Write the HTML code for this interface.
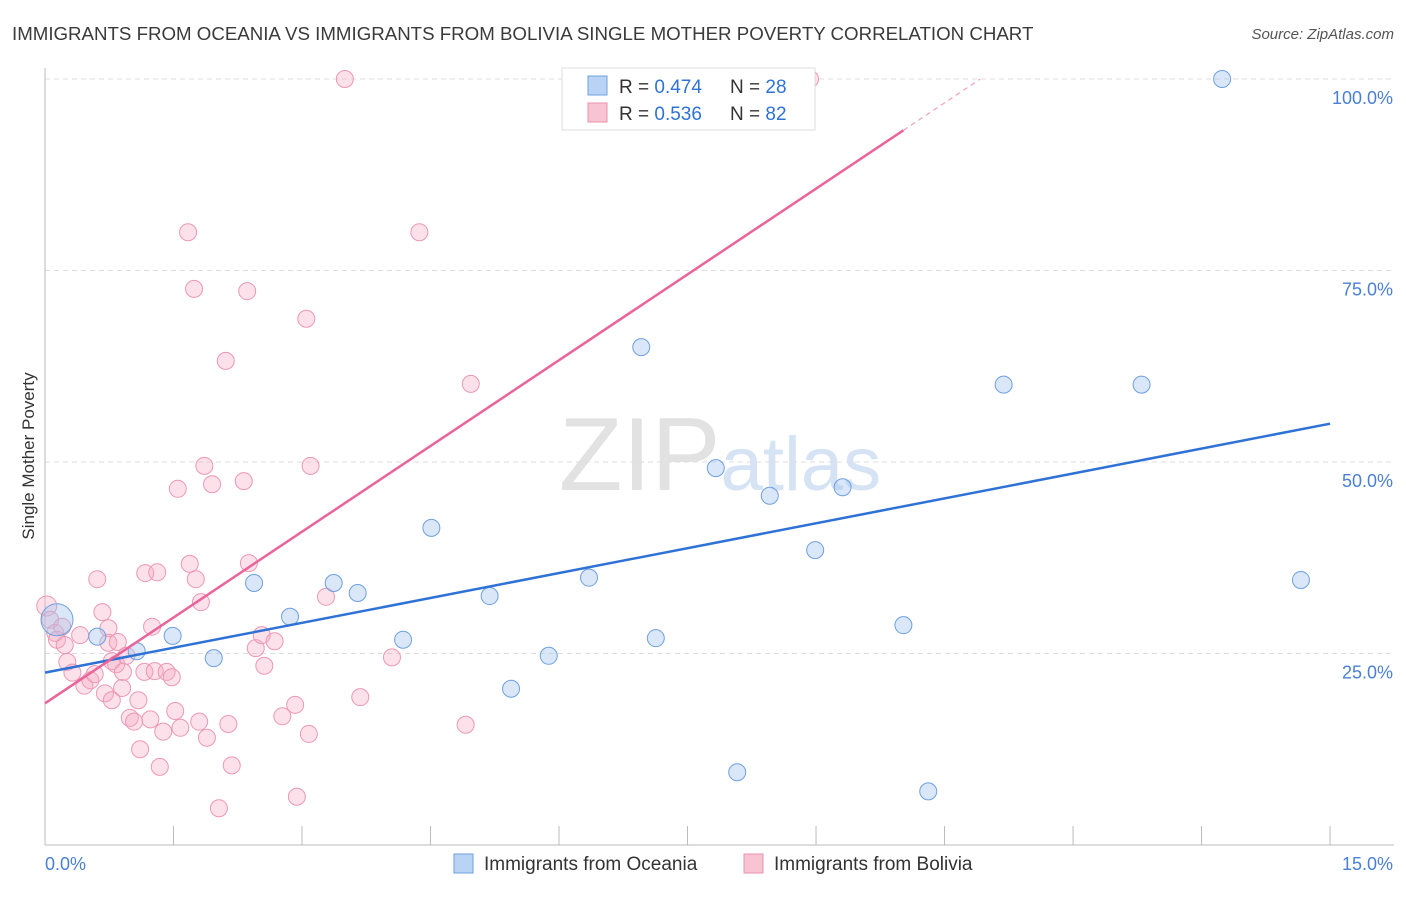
<!DOCTYPE html>
<html><head><meta charset="utf-8"><style>
body{margin:0;background:#fff;font-family:"Liberation Sans",sans-serif;}
svg text{font-family:"Liberation Sans",sans-serif;}
</style></head><body>
<svg id="chart" width="1406" height="892" xmlns="http://www.w3.org/2000/svg">
<text x="12" y="40" font-size="18.7" fill="#3a3a3a">IMMIGRANTS FROM OCEANIA VS IMMIGRANTS FROM BOLIVIA SINGLE MOTHER POVERTY CORRELATION CHART</text>
<text x="1394" y="39" font-size="15" fill="#555" font-style="italic" text-anchor="end">Source: ZipAtlas.com</text>
<text x="720" y="490" font-size="104" fill="#e2e2e2" text-anchor="middle" font-family="Liberation Serif">ZIP<tspan fill="#d5e3f5" font-family="Liberation Sans" font-size="76">atlas</tspan></text>
<g id="grid"></g>
<g id="axes"></g>
<g id="pts"></g>
<g id="lines"></g>
<text transform="translate(34,456) rotate(-90)" font-size="17" fill="#333" text-anchor="middle">Single Mother Poverty</text>
<g>
<rect x="562" y="68" width="253" height="62" fill="#fff" stroke="#ddd"/>
<rect x="588" y="76" width="19" height="19" fill="#b8d3f5" stroke="#6fa0e0"/>
<rect x="588" y="103" width="19" height="19" fill="#f8c3d3" stroke="#ec90ae"/>
<text x="619" y="93" font-size="19" fill="#333">R = <tspan fill="#2f72d6">0.474</tspan></text>
<text x="730" y="93" font-size="19" fill="#333">N = <tspan fill="#2f72d6">28</tspan></text>
<text x="619" y="120" font-size="19" fill="#333">R = <tspan fill="#2f72d6">0.536</tspan></text>
<text x="730" y="120" font-size="19" fill="#333">N = <tspan fill="#2f72d6">82</tspan></text>
</g>
<g>
<rect x="454" y="854" width="19" height="19" fill="#b8d3f5" stroke="#6fa0e0"/>
<text x="484" y="870" font-size="19" fill="#333">Immigrants from Oceania</text>
<rect x="744" y="854" width="19" height="19" fill="#f8c3d3" stroke="#ec90ae"/>
<text x="774" y="870" font-size="19" fill="#333">Immigrants from Bolivia</text>
</g>
</svg>
<script>
const blueX=[0.14,0.61,1.07,1.49,1.97,2.44,2.86,3.37,3.65,4.18,4.51,5.19,5.44,5.88,6.35,6.96,7.13,7.83,8.08,8.46,8.99,9.31,10.02,10.31,11.19,12.80,13.74,14.66];
const blueY=[29.4,27.2,25.3,27.3,24.4,34.2,29.8,34.2,32.9,26.8,41.4,32.5,20.4,24.7,34.9,65.0,27.0,49.2,9.5,45.6,38.5,46.7,28.7,7.0,60.1,60.1,100,34.6];
const pinkX=[0.02,0.06,0.12,0.14,0.20,0.26,0.32,0.23,0.41,0.46,0.53,0.58,0.61,0.67,0.70,0.74,0.74,0.78,0.83,0.78,0.85,0.90,0.91,0.95,0.99,1.04,1.09,1.11,1.16,1.17,1.23,1.25,1.28,1.31,1.34,1.38,1.42,1.48,1.52,1.55,1.58,1.67,1.69,1.74,1.76,1.80,1.82,1.86,1.89,1.95,2.03,2.11,2.14,2.18,2.32,2.36,2.38,2.46,2.53,2.56,2.68,2.77,2.92,2.94,3.05,3.08,3.10,3.28,3.50,3.68,4.05,4.37,4.91,4.97,8.93];
const pinkY=[31.2,29.4,27.7,26.8,28.5,23.9,22.5,26.1,27.4,20.8,21.5,22.3,34.7,30.4,19.8,28.3,26.4,24.0,23.6,18.9,26.5,20.5,22.6,24.7,16.6,16.1,18.9,12.5,22.6,35.5,16.4,28.5,22.7,35.6,10.2,14.8,22.6,21.9,17.5,46.5,15.3,80.0,36.7,72.6,34.7,16.1,31.7,49.5,14.0,47.1,4.8,63.2,15.8,10.4,47.5,72.3,36.8,25.7,27.4,23.4,26.6,16.8,18.3,6.3,68.7,14.5,49.5,32.4,100,19.3,24.5,80,15.7,60.2,100];
const xTicks=[0,1.5,3,4.5,6,7.5,9,10.5,12,13.5,15];
const yTicks=[25,50,75,100];
const yTickLabels=["25.0%","50.0%","75.0%","100.0%"];
const blueLine=[22.5,55.0];
const pinkLine=[18.5,93.3];
const NS="http://www.w3.org/2000/svg";
const sx=v=>45+v*85.67, sy=v=>845-v*7.66;
function mk(t,a,p){const e=document.createElementNS(NS,t);for(const k in a)e.setAttribute(k,a[k]);p.appendChild(e);return e;}
const grid=document.getElementById('grid'),axes=document.getElementById('axes'),pts=document.getElementById('pts'),lines=document.getElementById('lines');
yTicks.forEach((t,i)=>{
 const l=mk('line',{x1:45,x2:1394,y1:sy(t),y2:sy(t),stroke:'#ddd','stroke-dasharray':'5,4'},grid);
 
 
 const tx=mk('text',{x:1393,y:sy(t)+25,'font-size':18,fill:'#4a7fd4','text-anchor':'end'},axes);
 tx.textContent=yTickLabels[i];
 
 
});
const xa=mk('line',{x1:45,x2:1394,y1:845,y2:845,stroke:'#bbb'},axes);


const ya=mk('line',{x1:45,x2:45,y1:68,y2:845,stroke:'#bbb'},axes);


xTicks.forEach(t=>{const l=mk('line',{x1:sx(t),x2:sx(t),y1:826,y2:845,stroke:'#bbb'},axes);
 
 });
const x0=mk('text',{x:45,y:870,'font-size':18,fill:'#4a7fd4'},axes);x0.textContent='0.0%';


const x1=mk('text',{x:1393,y:870,'font-size':18,fill:'#4a7fd4','text-anchor':'end'},axes);x1.textContent='15.0%';


pinkX.forEach((x,i)=>{const c=mk('circle',{cx:sx(x),cy:sy(pinkY[i]),r:i==0?10:8.5,fill:'rgba(245,170,195,0.35)',stroke:'#ec98b4','stroke-width':1},pts);
 
 });
blueX.forEach((x,i)=>{const c=mk('circle',{cx:sx(x),cy:sy(blueY[i]),r:i==0?16:8.5,fill:'rgba(160,195,240,0.4)',stroke:'#6fa0e0','stroke-width':1},pts);
 
 });
const bl=mk('line',{x1:sx(0),y1:sy(blueLine[0]),x2:sx(15),y2:sy(blueLine[1]),stroke:'#2f72d6','stroke-width':2.5},lines);


const pl=mk('line',{x1:sx(0),y1:sy(pinkLine[0]),x2:sx(10.02),y2:sy(pinkLine[1]),stroke:'#e8649a','stroke-width':2.5},lines);


const slope=(pinkLine[1]-pinkLine[0])/10.02, xe=(100-pinkLine[0])/slope;
const pd=mk('line',{x1:sx(10.02),y1:sy(pinkLine[1]),x2:sx(xe),y2:sy(100),stroke:'#f0a0bf','stroke-width':1.2,'stroke-dasharray':'5,4'},lines);


</script>
</body></html>
